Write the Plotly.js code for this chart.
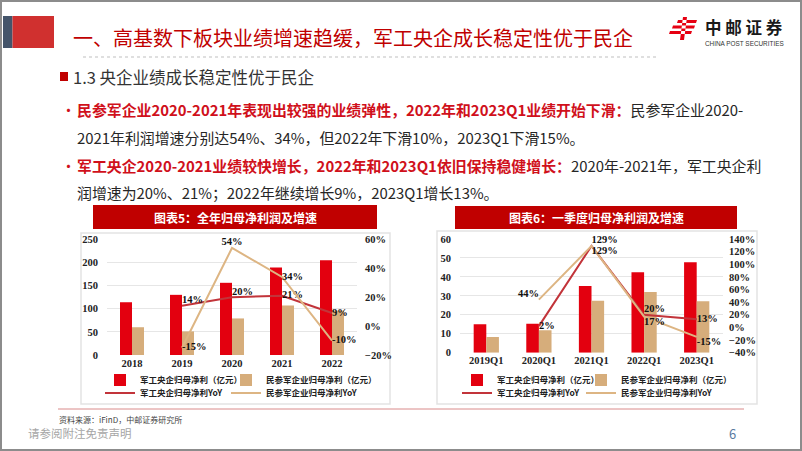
<!DOCTYPE html>
<html>
<head>
<meta charset="utf-8">
<script src="https://cdn.plot.ly/plotly-3.0.1.min.js"></script>
<style>html,body{margin:0;padding:0;background:#fff;}#chart{width:802px;height:451px;}</style>
</head>
<body>
<div id="chart"></div>
<script>
// ---- Data ----
const years = ['2018', '2019', '2020', '2021', '2022'];
const soeProfit = [114, 130, 156, 189, 205];          // 军工央企归母净利（亿元）
const privProfit = [60, 51, 79, 107, 96];             // 民参军企业归母净利（亿元）
const yoyYears = ['2019', '2020', '2021', '2022'];
const soeYoY = [14, 20, 21, 9];                        // %
const privYoY = [-15, 54, 34, -10];                    // %

const quarters = ['2019Q1', '2020Q1', '2021Q1', '2022Q1', '2023Q1'];
const soeQ = [15.0, 15.3, 35.2, 42.4, 47.7];
const privQ = [8.3, 11.8, 27.4, 32.0, 27.1];
const yoyQuarters = ['2020Q1', '2021Q1', '2022Q1', '2023Q1'];
const soeQYoY = [2, 129, 20, 13];
const privQYoY = [44, 129, 17, -15];

const seriesNames = ['军工央企归母净利（亿元）', '民参军企业归母净利（亿元）', '军工央企归母净利YoY', '民参军企业归母净利YoY'];

// ---- Styles ----
const W = 802, H = 451;
const px = x => x / W;
const py = y => 1 - y / H;
const RED = '#E3000F', TAN = '#D6AD7B', LRED = '#C2343A', LTAN = '#DDB583';
const CJK = '"Noto Sans CJK SC", "Noto Sans", sans-serif';
const SERIF = '"Liberation Serif", "DejaVu Serif", serif';
const pct = arr => arr.map(v => v + '%');

const labelFont = {family: SERIF, size: 10.5, color: '#111', weight: 'bold'};

const traces = [
  // Left chart
  {type: 'bar', x: years, y: soeProfit, name: seriesNames[0], marker: {color: RED}, xaxis: 'x', yaxis: 'y', legend: 'legend'},
  {type: 'bar', x: years, y: privProfit, name: seriesNames[1], marker: {color: TAN}, xaxis: 'x', yaxis: 'y', legend: 'legend2'},
  {type: 'scatter', mode: 'lines+text', x: yoyYears, y: soeYoY, name: seriesNames[2], line: {color: LRED, width: 2},
   text: pct(soeYoY), textposition: ['top right', 'top right', 'middle right', 'middle right'], textfont: labelFont,
   xaxis: 'x', yaxis: 'y2', legend: 'legend3', cliponaxis: false},
  {type: 'scatter', mode: 'lines+text', x: yoyYears, y: privYoY, name: seriesNames[3], line: {color: LTAN, width: 2},
   text: pct(privYoY), textposition: ['middle right', 'top center', 'middle right', 'middle right'], textfont: labelFont,
   xaxis: 'x', yaxis: 'y2', legend: 'legend4', cliponaxis: false},
  // Right chart
  {type: 'bar', x: quarters, y: soeQ, name: seriesNames[0], marker: {color: RED}, xaxis: 'x2', yaxis: 'y3', legend: 'legend5'},
  {type: 'bar', x: quarters, y: privQ, name: seriesNames[1], marker: {color: TAN}, xaxis: 'x2', yaxis: 'y3', legend: 'legend6'},
  {type: 'scatter', mode: 'lines+text', x: yoyQuarters, y: soeQYoY, name: seriesNames[2], line: {color: LRED, width: 2},
   text: pct(soeQYoY), textposition: ['middle right', 'top right', 'top right', 'middle right'], textfont: labelFont,
   xaxis: 'x2', yaxis: 'y4', legend: 'legend7', cliponaxis: false},
  {type: 'scatter', mode: 'lines+text', x: yoyQuarters, y: privQYoY, name: seriesNames[3], line: {color: LTAN, width: 2},
   text: pct(privQYoY), textposition: ['top left', 'bottom right', 'bottom right', 'bottom right'], textfont: labelFont,
   xaxis: 'x2', yaxis: 'y4', legend: 'legend8', cliponaxis: false}
];

const tickFont = {family: SERIF, size: 10.5, color: '#222', weight: 'bold'};
const legendAt = (x, y) => ({orientation: 'h', xanchor: 'left', yanchor: 'middle', bgcolor: 'rgba(0,0,0,0)',
  font: {family: CJK, size: 8.5, color: '#222', weight: 'bold'}, itemwidth: 30, x: px(x), y: py(y)});

const shapes = [];
const rect = (x0, y0, x1, y1, fill, line) => shapes.push({type: 'rect', xref: 'paper', yref: 'paper',
  x0: px(x0), x1: px(x1), y0: py(y1), y1: py(y0), fillcolor: fill, line: line || {width: 0}, layer: 'below'});
const hline = (x0, x1, y, color, width, dash) => shapes.push({type: 'line', xref: 'paper', yref: 'paper',
  x0: px(x0), x1: px(x1), y0: py(y), y1: py(y), line: {color: color, width: width, dash: dash || 'solid'}, layer: 'below'});

// header blocks
rect(3, 16, 12.5, 48, '#44546A');
rect(12.5, 16, 54, 48, '#D0302F');
hline(83, 657, 57, '#BFBFBF', 1, 'dot');
// subtitle square
rect(60, 72, 68, 81, '#C00000');
// chart panels
rect(81, 233, 390, 404, 'rgba(0,0,0,0)', {color: '#E3E3E3', width: 1.5});
rect(437, 231, 757, 404, 'rgba(0,0,0,0)', {color: '#E3E3E3', width: 1.5});
rect(93, 205, 377, 229, '#C00000');
rect(455, 206, 737, 229, '#C00000');
// footer line
hline(58, 744, 409, '#D98A8A', 1);
// logo icon (stylised)
shapes.push({type: 'path', xref: 'paper', yref: 'paper', layer: 'above', fillcolor: '#E60012', line: {width: 0},
  path: ['M', px(678), py(20), 'L', px(697), py(20), 'L', px(696), py(23), 'L', px(677), py(23), 'Z',
         'M', px(673), py(25.5), 'L', px(695), py(25.5), 'L', px(694), py(28.5), 'L', px(672), py(28.5), 'Z',
         'M', px(670), py(31), 'L', px(692), py(31), 'L', px(691), py(34), 'L', px(669), py(34), 'Z',
         'M', px(683), py(17), 'L', px(687), py(17), 'L', px(684), py(40), 'L', px(680), py(40), 'Z'].join(' ')});
// slide frame
shapes.push({type: 'rect', xref: 'paper', yref: 'paper', x0: px(1), x1: px(801), y0: py(450), y1: py(1),
  line: {color: '#8C8C8C', width: 2}, fillcolor: 'rgba(0,0,0,0)', layer: 'above'});

const ann = (x, y, text, size, color, opts) => Object.assign({xref: 'paper', yref: 'paper', x: px(x), y: py(y),
  xanchor: 'left', yanchor: 'middle', showarrow: false, text: text,
  font: {family: CJK, size: size, color: color}}, opts || {});

const R = s => '<span style="color:#D0101B"><b>' + s + '</b></span>';
const BODY = 14.9;
const annotations = [
  ann(71, 37, '一、高基数下板块业绩增速趋缓，军工央企成长稳定性优于民企', 20, '#C00000'),
  ann(703, 27, '<b>中 邮 证 券</b>', 16.5, '#1a1a1a'),
  ann(703, 43.5, 'CHINA POST SECURITIES', 6.4, '#333', {font: {family: '"Liberation Sans", Arial, sans-serif', size: 6.4, color: '#333'}}),
  ann(71, 77, '1.3 央企业绩成长稳定性优于民企', 16.5, '#333'),
  ann(59, 109, '•', 15, '#D0101B'),
  ann(75, 109, R('民参军企业2020-2021年表现出较强的业绩弹性，2022年和2023Q1业绩开始下滑：') + '民参军企业2020-', BODY, '#262626'),
  ann(75, 138, '2021年利润增速分别达54%、34%，但2022年下滑10%，2023Q1下滑15%。', BODY, '#262626'),
  ann(59, 165, '•', 15, '#D0101B'),
  ann(75, 165, R('军工央企2020-2021业绩较快增长，2022年和2023Q1依旧保持稳健增长：') + '2020年-2021年，军工央企利', BODY, '#262626'),
  ann(75, 192, '润增速为20%、21%；2022年继续增长9%，2023Q1增长13%。', BODY, '#262626'),
  ann(235, 217, '<b>图表5：全年归母净利润及增速</b>', 12, '#fff', {xanchor: 'center'}),
  ann(596, 217.5, '<b>图表6：一季度归母净利润及增速</b>', 12, '#fff', {xanchor: 'center'}),
  ann(57, 419, '资料来源：iFinD，中邮证券研究所', 8, '#444'),
  ann(26, 433, '请参阅附注免责声明', 11.5, '#A6A6A6'),
  ann(727, 433, '6', 13, '#5A7BA0')
];

const layout = {
  width: W, height: H, margin: {l: 0, r: 0, t: 0, b: 0},
  paper_bgcolor: '#fff', plot_bgcolor: 'rgba(0,0,0,0)',
  barmode: 'group', bargap: 0.52, bargroupgap: 0,
  font: {family: CJK},
  xaxis: {domain: [px(107), px(357)], anchor: 'y', type: 'category', tickfont: tickFont, showline: false,
          ticks: '', fixedrange: true},
  yaxis: {domain: [py(355), py(239.3)], range: [0, 250], dtick: 50, tickfont: tickFont, gridcolor: '#E6E6E6',
          gridwidth: 1, zeroline: false, showline: false, ticks: '', ticklabelstandoff: 8},
  yaxis2: {overlaying: 'y', side: 'right', anchor: 'x', range: [-20, 60], dtick: 20, ticksuffix: '%',
           tickfont: tickFont, showgrid: false, zeroline: false, ticks: '', ticklabelstandoff: 7},
  xaxis2: {domain: [px(460), px(723)], anchor: 'y3', type: 'category', tickfont: tickFont, showline: false, ticks: ''},
  yaxis3: {domain: [py(352.7), py(239)], anchor: 'x2', range: [0, 60], dtick: 10, tickfont: tickFont,
           gridcolor: '#E6E6E6', zeroline: false, ticks: '', ticklabelstandoff: 8},
  yaxis4: {overlaying: 'y3', side: 'right', anchor: 'x2', range: [-40, 140], dtick: 20, ticksuffix: '%',
           tickfont: tickFont, showgrid: false, zeroline: false, ticks: '', ticklabelstandoff: 5},
  legend: legendAt(100, 380),
  legend2: legendAt(226, 380),
  legend3: legendAt(100, 393),
  legend4: legendAt(226, 393),
  legend5: legendAt(457, 380),
  legend6: legendAt(581, 380),
  legend7: legendAt(457, 393),
  legend8: legendAt(581, 393),
  shapes: shapes,
  annotations: annotations,
  showlegend: true
};

Plotly.newPlot('chart', traces, layout, {displayModeBar: false, staticPlot: true});
</script>
</body>
</html>
